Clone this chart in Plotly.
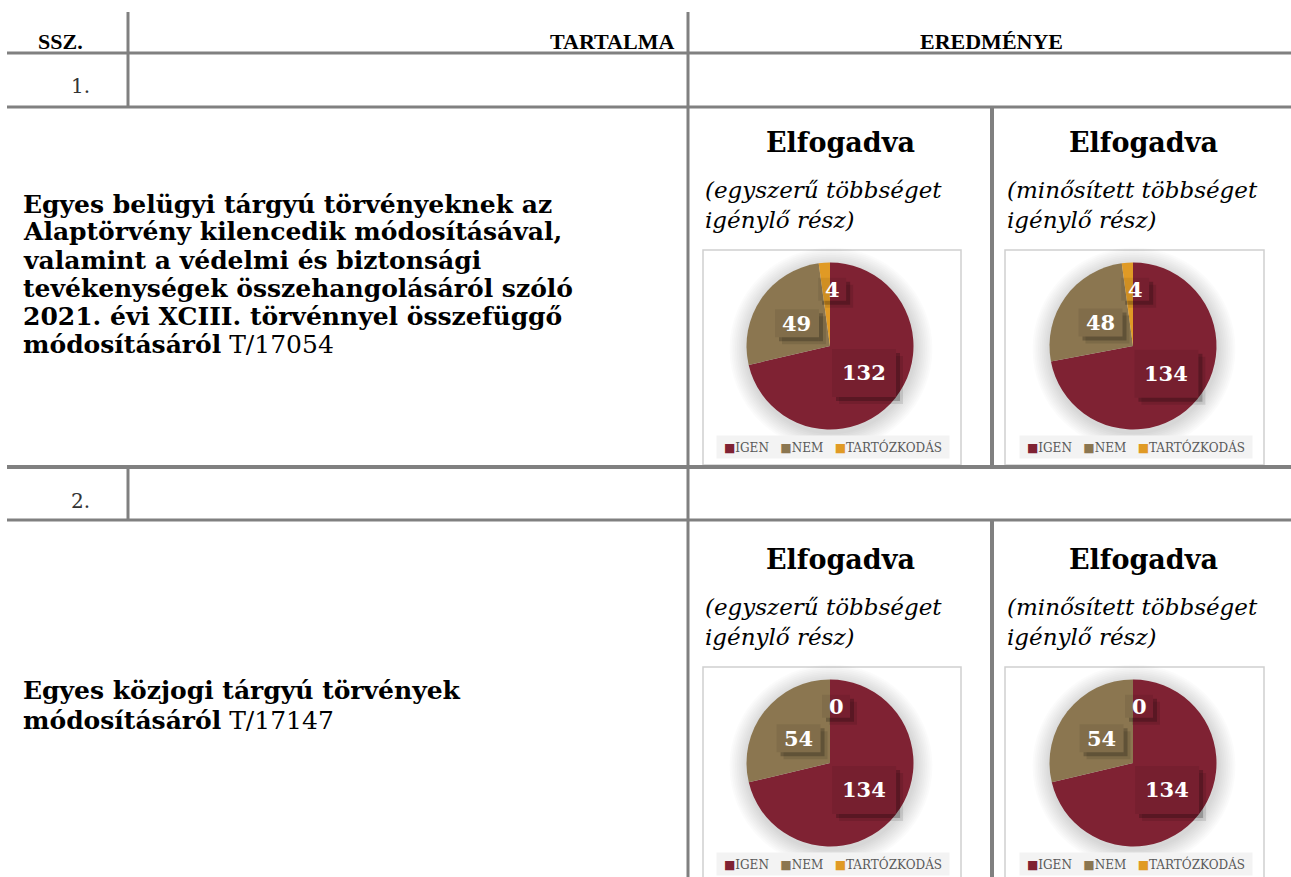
import math
import plotly.graph_objects as go

W, H = 1291, 877

# ---------------- data ----------------
CATEGORIES = ["IGEN", "NEM", "TARTÓZKODÁS"]
COLORS = ["#7F2233", "#8B7650", "#E09A25"]

VOTES_1_SIMPLE = [132, 49, 4]
VOTES_1_QUALIFIED = [134, 48, 4]
VOTES_2_SIMPLE = [134, 54, 0]
VOTES_2_QUALIFIED = [134, 54, 0]

HEADER_SSZ = "SSZ."
HEADER_CONTENT = "TARTALMA"
HEADER_RESULT = "EREDMÉNYE"
ROW_NUMBERS = ["1.", "2."]
ROW1_TITLE = ["Egyes belügyi tárgyú törvényeknek az",
              "Alaptörvény kilencedik módosításával,",
              "valamint a védelmi és biztonsági",
              "tevékenységek összehangolásáról szóló",
              "2021. évi XCIII. törvénnyel összefüggő",
              "módosításáról"]
ROW1_CODE = "T/17054"
ROW2_TITLE = ["Egyes közjogi tárgyú törvények",
              "módosításáról"]
ROW2_CODE = "T/17147"
RESULT_TITLE = "Elfogadva"
SUB_SIMPLE = ["(egyszerű többséget", "igénylő rész)"]
SUB_QUALIFIED = ["(minősített többséget", "igénylő rész)"]

# ---------------- layout helpers ----------------
def px(x):
    return x / W


def py(y):
    return 1 - y / H


SERIF = "DejaVu Serif"
LINE = "#808080"

fig = go.Figure()
shapes = []
annotations = []


def hline(y, x0=7, x1=W, width=3):
    shapes.append(dict(type="line", xref="paper", yref="paper",
                       x0=px(x0), x1=px(x1), y0=py(y), y1=py(y),
                       line=dict(color=LINE, width=width), layer="above"))


def vline(x, y0, y1, width=3):
    shapes.append(dict(type="line", xref="paper", yref="paper",
                       x0=px(x), x1=px(x), y0=py(y0), y1=py(y1),
                       line=dict(color=LINE, width=width), layer="above"))


def text(x, y, s, size, xanchor="left", color="#000000", family=SERIF):
    annotations.append(dict(xref="paper", yref="paper", x=px(x), y=py(y),
                            text=s, showarrow=False, xanchor=xanchor,
                            yanchor="middle",
                            font=dict(family=family, size=size, color=color)))


# table grid
hline(53)
hline(107)
hline(467, width=4)
hline(520)
vline(128, 12, 107)
vline(128, 467, 520)
vline(688, 12, 877)
vline(992, 107, 467, width=4)
vline(992, 520, 877, width=4)

# header
text(60, 41, f"<b>{HEADER_SSZ}</b>", 22, "center", family="Liberation Serif")
text(676, 41, f"<b>{HEADER_CONTENT}</b>", 22, "right", family="Liberation Serif")
text(991, 41, f"<b>{HEADER_RESULT}</b>", 22, "center", family="Liberation Serif")
text(92, 86, ROW_NUMBERS[0], 20, "right", color="#333333")
text(92, 501, ROW_NUMBERS[1], 20, "right", color="#333333")

# left column titles
row1_y = [204, 232, 260, 288, 316, 344]
for i, line in enumerate(ROW1_TITLE):
    s = f"<b>{line}</b>"
    if i == len(ROW1_TITLE) - 1:
        s += " " + ROW1_CODE
    text(21, row1_y[i], s, 25)
row2_y = [690, 720]
for i, line in enumerate(ROW2_TITLE):
    s = f"<b>{line}</b>"
    if i == len(ROW2_TITLE) - 1:
        s += " " + ROW2_CODE
    text(21, row2_y[i], s, 25)

# result column titles
for (tx, sx, subs) in [(840, 703, SUB_SIMPLE), (1143, 1005, SUB_QUALIFIED)]:
    for dy in (0, 417):
        text(tx, 142 + dy, f"<b>{RESULT_TITLE}</b>", 27, "center")
        text(sx, 190 + dy, f"<i>{subs[0]}</i>", 23)
        text(sx, 220 + dy, f"<i>{subs[1]}</i>", 23)

# ---------------- pies ----------------
R = 83.5
PIES = [
    (VOTES_1_SIMPLE, 830, 346, 703, 961, 250, 465),
    (VOTES_1_QUALIFIED, 1133, 346, 1005, 1264, 250, 465),
    (VOTES_2_SIMPLE, 830, 763, 703, 961, 667, 882),
    (VOTES_2_QUALIFIED, 1133, 763, 1005, 1264, 667, 882),
]
LABEL_RADIUS = [0.52, 0.48, 0.68]
LABEL_XSHIFT = [0, 0, 6]
BOX_SIZE = {1: (28, 23), 2: (44, 28), 3: (64, 48)}

layout_axes = {}
for k, (votes, cx, cy, bx0, bx1, by0, by1) in enumerate(PIES):
    # chart box
    shapes.append(dict(type="rect", xref="paper", yref="paper",
                       x0=px(bx0), x1=px(bx1), y0=py(by1), y1=py(by0),
                       line=dict(color="#d0d0d0", width=1.5),
                       fillcolor="white", layer="below"))
    # soft shadow halo
    for j in range(10):
        r = R + 18 - j * 1.8
        shapes.append(dict(type="circle", xref="paper", yref="paper",
                           x0=px(cx + 1 - r), x1=px(cx + 1 + r),
                           y0=py(cy + 3 + r), y1=py(cy + 3 - r),
                           line=dict(width=0),
                           fillcolor="rgba(0,0,0,0.014)", layer="below"))
    dx = [px(cx - R), px(cx + R)]
    dy = [py(cy + R), py(cy - R)]
    fig.add_trace(go.Pie(
        labels=CATEGORIES, values=votes, sort=False, direction="clockwise",
        rotation=0, textinfo="none", hoverinfo="label+value",
        marker=dict(colors=COLORS, line=dict(width=0)),
        domain=dict(x=dx, y=dy), showlegend=False))

    # overlay axes for the data labels
    n = k + 1
    xa = "xaxis" if n == 1 else f"xaxis{n}"
    ya = "yaxis" if n == 1 else f"yaxis{n}"
    xr = "x" if n == 1 else f"x{n}"
    yr = "y" if n == 1 else f"y{n}"
    layout_axes[xa] = dict(domain=dx, range=[-1, 1], visible=False,
                           fixedrange=True, anchor=yr)
    layout_axes[ya] = dict(domain=dy, range=[-1, 1], visible=False,
                           fixedrange=True, anchor=xr)
    fig.add_trace(go.Scatter(x=[-1, 1], y=[-1, 1], xaxis=xr, yaxis=yr,
                             mode="markers", marker=dict(opacity=0),
                             showlegend=False, hoverinfo="skip"))

    total = sum(votes)
    start = 0.0
    for i, v in enumerate(votes):
        ang = (start + v / 2) / total * 2 * math.pi
        start += v
        f = LABEL_RADIUS[i]
        ax, ay = f * math.sin(ang), f * math.cos(ang)
        lab = str(v)
        bw, bh = BOX_SIZE[len(lab)]
        xs = LABEL_XSHIFT[i]
        common = dict(type="rect", xref=xr, yref=yr, xsizemode="pixel",
                      ysizemode="pixel", xanchor=ax, yanchor=ay,
                      line=dict(width=0), layer="above")
        # translucent label box
        shapes.append(dict(common, x0=xs - bw / 2, x1=xs + bw / 2,
                           y0=-bh / 2, y1=bh / 2,
                           fillcolor="rgba(0,0,0,0.07)"))
        # drop shadow (right and bottom edges)
        for (d, a) in [(7, 0.10), (4, 0.22)]:
            shapes.append(dict(common, x0=xs + bw / 2, x1=xs + bw / 2 + d,
                               y0=-bh / 2 - d, y1=bh / 2 - d,
                               fillcolor=f"rgba(0,0,0,{a})"))
            shapes.append(dict(common, x0=xs - bw / 2 + d, x1=xs + bw / 2,
                               y0=-bh / 2 - d, y1=-bh / 2,
                               fillcolor=f"rgba(0,0,0,{a})"))
        annotations.append(dict(xref=xr, yref=yr, x=ax, y=ay, xshift=xs,
                                text=f"<b>{lab}</b>", showarrow=False,
                                font=dict(family=SERIF, size=21,
                                          color="white")))

    # legend row built from the categories
    leg = "   ".join(f'<span style="color:{c}">■</span>{lab}'
                     for lab, c in zip(CATEGORIES, COLORS))
    annotations.append(dict(xref="paper", yref="paper", x=px(cx + 3),
                            y=py(by0 + 197), text=leg, showarrow=False,
                            xanchor="center", yanchor="middle",
                            width=230, height=20, bgcolor="#f3f3f3",
                            font=dict(family=SERIF, size=12,
                                      color="#595959")))

fig.update_layout(
    width=W, height=H, margin=dict(l=0, r=0, t=0, b=0),
    paper_bgcolor="white", plot_bgcolor="rgba(0,0,0,0)",
    shapes=shapes, annotations=annotations, showlegend=False,
    **layout_axes)

fig.write_html("out.html",
               config={"displayModeBar": False},
               post_script="document.body.style.margin='0';")
